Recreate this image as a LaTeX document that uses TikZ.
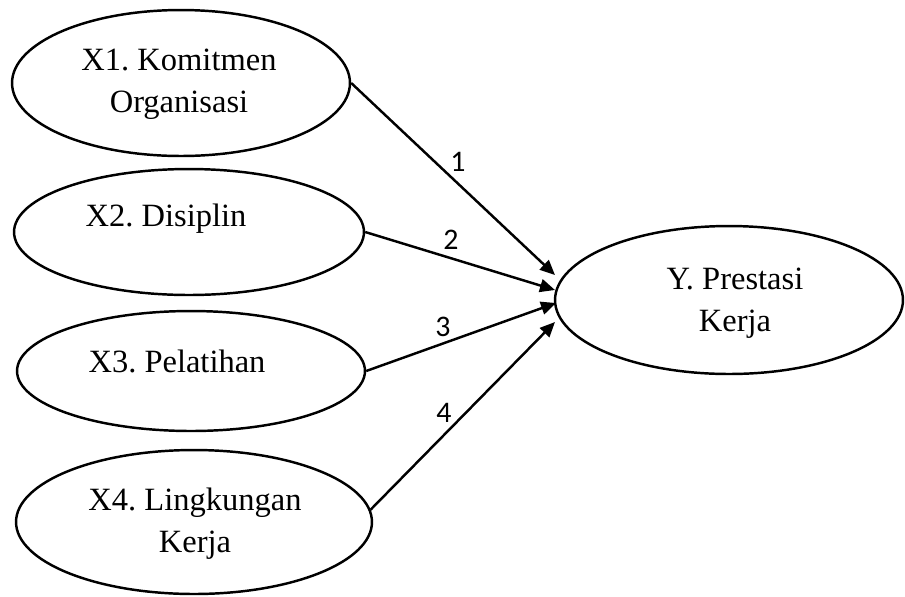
\documentclass[tikz,border=0pt]{standalone}
\usepackage{fontspec}
\setmainfont{Liberation Serif}
\newfontfamily\numfont{Carlito}
\usetikzlibrary{shapes.geometric, arrows.meta}
\frenchspacing

\tikzset{
    var/.style = {draw, ellipse, line width = 1.4pt, inner sep = 0pt},
    lbl/.style = {align = center, font = \fontsize{18.5}{23.8}\selectfont},
    num/.style = {font = \numfont\fontsize{17}{18}\selectfont},
    path/.style = {line width = 1.4pt, -{Triangle[length = 0.3cm, width = 0.26cm]}}
}

\begin{document}
\begin{tikzpicture}[x = 0.02cm, y = -0.02cm]
                \useasboundingbox (0, 0) rectangle (905, 596);
                % ellipses
                \node[var, minimum width = 6.76cm, minimum height = 2.92cm] (x1) at (181, 83) {};
                \node[var, minimum width = 7.00cm, minimum height = 2.52cm] (x2) at (189, 232) {};
                \node[var, minimum width = 6.96cm, minimum height = 2.40cm] (x3) at (191, 371) {};
                \node[var, minimum width = 7.12cm, minimum height = 2.88cm] (x4) at (194, 522) {};
                \node[var, minimum width = 6.96cm, minimum height = 2.96cm] (y) at (729, 300) {};
                % texts
                \node[lbl] (x1t) at (179, 84) {X1. Komitmen\\Organisasi};
                \node[lbl] (x2t) at (166, 219) {X2. Disiplin};
                \node[lbl] (x3t) at (177, 361) {X3. Pelatihan};
                \node[lbl] (x4t) at (195, 524) {X4. Lingkungan\\Kerja};
                \node[lbl] (yt) at (735, 303) {Y. Prestasi\\Kerja};
                % arrow tips
                \coordinate (t1) at (555, 275);
                \coordinate (t2) at (555, 290);
                \coordinate (t3) at (556, 303);
                \coordinate (t4) at (555, 322);
                \draw[path] (x1.east) -- (t1);
                \draw[path] (x2.east) -- (t2);
                \draw[path] (x3.east) -- (t3);
                \draw[path] (x4.4) -- (t4);
                % numbers
                \node[num] (n1) at (458, 162) {1};
                \node[num] (n2) at (451, 240) {2};
                \node[num] (n3) at (443, 327) {3};
                \node[num] (n4) at (444, 413) {4};
            \end{tikzpicture}
\end{document}
